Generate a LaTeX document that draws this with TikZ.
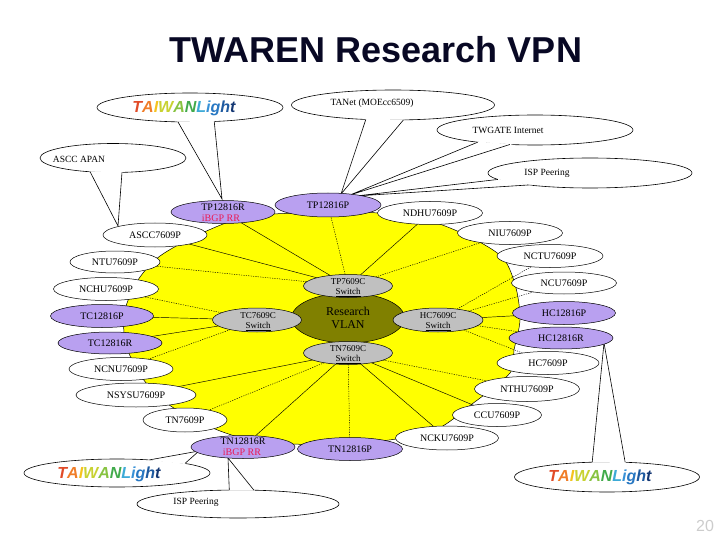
\documentclass[tikz,border=0pt]{standalone}
\usepackage{fontspec}
\setmainfont{Liberation Serif}
\newfontfamily\arialf{Liberation Sans}
\usetikzlibrary{shapes.geometric}
\pgfdeclarelayer{bg}
\pgfsetlayers{bg,main}
\definecolor{purp}{RGB}{185,160,240}
\definecolor{swgray}{RGB}{192,192,192}
\definecolor{olive}{RGB}{128,128,0}
\definecolor{blobyel}{RGB}{255,255,0}
\definecolor{ibgp}{RGB}{235,25,85}
\definecolor{titlecol}{RGB}{8,8,36}
\definecolor{twA}{RGB}{225,75,40}
\definecolor{twB}{RGB}{240,125,40}
\definecolor{twC}{RGB}{245,195,30}
\definecolor{twD}{RGB}{200,210,50}
\definecolor{twE}{RGB}{135,195,65}
\definecolor{twF}{RGB}{65,170,75}
\definecolor{twG}{RGB}{60,170,215}
\definecolor{twH}{RGB}{55,145,215}
\definecolor{twI}{RGB}{40,120,195}
\definecolor{twJ}{RGB}{30,90,160}
\definecolor{twK}{RGB}{20,55,115}
\newcommand{\twlight}{{\arialf\bfseries\itshape\textcolor{twA}{T}\textcolor{twB}{A}\textcolor{twC}{I}\textcolor{twD}{W}\textcolor{twE}{A}\textcolor{twF}{N}\textcolor{twG}{L}\textcolor{twH}{i}\textcolor{twI}{g}\textcolor{twJ}{h}\textcolor{twK}{t}}}
\tikzset{
  ell/.style={ellipse, draw=black, line width=0.5pt, inner sep=0pt, outer sep=0pt, font=\fontsize{10}{12}\selectfont},
  wnode/.style={ell, fill=white},
  pnode/.style={ell, fill=purp},
  snode/.style={ell, fill=swgray},
  cnode/.style={ellipse, draw=black, line width=0.6pt, fill=white, inner sep=0pt, outer sep=0pt},
  ctxt/.style={inner sep=0pt, font=\fontsize{9.5}{11}\selectfont},
  stxt/.style={inner sep=0pt, align=center, font=\fontsize{9}{10}\selectfont},
  ntxt/.style={inner sep=0pt, font=\fontsize{10}{12}\selectfont},
  itxt/.style={inner sep=0pt, text=ibgp, font=\fontsize{10}{12}\selectfont},
  tw/.style={inner sep=0pt, font=\fontsize{16}{18}\selectfont},
  ptrfill/.style={fill=white, draw=white, line width=1pt},
  ptr/.style={draw=black, line width=0.6pt},
  sol/.style={draw=black, line width=0.45pt},
  dot/.style={draw=black, line width=0.45pt, dash pattern=on 1.2pt off 1.2pt},
  blob/.style={fill=blobyel, draw=black, line width=0.5pt}
}
\begin{document}
\begin{tikzpicture}[x=1pt,y=-1pt]
\useasboundingbox (0,0) rectangle (720,540);

% title
\node[font=\arialf\bfseries\fontsize{36}{40}\selectfont, text=titlecol, anchor=base, inner sep=0pt] (title) at (376,63) {TWAREN Research VPN};

% callouts
\node[cnode, minimum width=186pt, minimum height=29pt] (tlt) at (190,107.5) {};
\coordinate (tlt-tip) at (222,199);
\path[ptrfill] (tlt.230) -- (tlt-tip) -- (tlt.330) -- cycle;
\draw[ptr] (tlt.230) -- (tlt-tip) -- (tlt.330);
\node[tw] (tlt-t) at (184,108) {\twlight};

\node[cnode, minimum width=203pt, minimum height=30pt] (tanet) at (393,105) {};
\coordinate (tanet-tip) at (341,194);
\path[ptrfill] (tanet.208) -- (tanet-tip) -- (tanet.305) -- cycle;
\draw[ptr] (tanet.208) -- (tanet-tip) -- (tanet.305);
\node[ctxt] (tanet-t) at (372,103) {TANet (MOEcc6509)};

\node[cnode, minimum width=196pt, minimum height=30pt] (twgate) at (535,130) {};
\coordinate (twgate-tip) at (350,195);
\path[ptrfill] (twgate.192) -- (twgate-tip) -- (twgate.210) -- cycle;
\draw[ptr] (twgate.192) -- (twgate-tip) -- (twgate.210);
\node[ctxt] (twgate-t) at (508,130) {TWGATE Internet};

\node[cnode, minimum width=204pt, minimum height=30pt] (ispt) at (590,173) {};
\coordinate (ispt-tip) at (356,196);
\path[ptrfill] (ispt.184) -- (ispt-tip) -- (ispt.191) -- cycle;
\draw[ptr] (ispt.184) -- (ispt-tip) -- (ispt.191);
\node[ctxt] (ispt-t) at (547,173) {ISP Peering};

\node[cnode, minimum width=146pt, minimum height=29pt] (apan) at (113,158) {};
\coordinate (apan-tip) at (118,226);
\path[ptrfill] (apan.211) -- (apan-tip) -- (apan.302) -- cycle;
\draw[ptr] (apan.211) -- (apan-tip) -- (apan.302);
\node[ctxt] (apan-t) at (79,159) {ASCC APAN};

\node[cnode, minimum width=186pt, minimum height=28pt] (tlbl) at (117,473) {};
\coordinate (tlbl-tip) at (199,451);
\path[ptrfill] (tlbl.22) -- (tlbl-tip) -- (tlbl.8.5) -- cycle;
\draw[ptr] (tlbl.22) -- (tlbl-tip) -- (tlbl.8.5);
\node[tw] (tlbl-t) at (109,474) {\twlight};

\node[cnode, minimum width=202pt, minimum height=28pt] (ispb) at (238,504) {};
\coordinate (ispb-tip) at (228,458);
\path[ptrfill] (ispb.122) -- (ispb-tip) -- (ispb.41) -- cycle;
\draw[ptr] (ispb.122) -- (ispb-tip) -- (ispb.41);
\node[ctxt] (ispb-t) at (196,502) {ISP Peering};

\node[cnode, minimum width=185pt, minimum height=30pt] (tlbr) at (607,477) {};
\coordinate (tlbr-tip) at (604,343);
\path[ptrfill] (tlbr.135) -- (tlbr-tip) -- (tlbr.39) -- cycle;
\draw[ptr] (tlbr.135) -- (tlbr-tip) -- (tlbr.39);
\node[tw] (tlbr-t) at (600,477) {\twlight};

% white nodes
\node[wnode, minimum width=104pt, minimum height=24pt] (ascc) at (155,235) {ASCC7609P};
\node[wnode, minimum width=90pt, minimum height=22pt] (ntu) at (115,262) {NTU7609P};
\node[wnode, minimum width=105pt, minimum height=23pt] (nchu) at (106,289) {NCHU7609P};
\node[wnode, minimum width=104pt, minimum height=23pt] (ncnu) at (121,369) {NCNU7609P};
\node[wnode, minimum width=120pt, minimum height=24pt] (nsysu) at (136,395) {NSYSU7609P};
\node[wnode, minimum width=84pt, minimum height=24pt] (tn7609p) at (185,420) {TN7609P};
\node[wnode, minimum width=103pt, minimum height=24pt] (ncku) at (447,438) {NCKU7609P};
\node[wnode, minimum width=89pt, minimum height=23pt] (ccu) at (497,415) {CCU7609P};
\node[wnode, minimum width=105pt, minimum height=25pt] (nthu) at (527,389) {NTHU7609P};
\node[wnode, minimum width=102pt, minimum height=23pt] (hc7609p) at (548,363) {HC7609P};
\node[wnode, minimum width=105pt, minimum height=22pt] (ncu) at (564,283) {NCU7609P};
\node[wnode, minimum width=106pt, minimum height=23pt] (nctu) at (550,256) {NCTU7609P};
\node[wnode, minimum width=105pt, minimum height=23pt] (niu) at (510,233) {NIU7609P};
\node[wnode, minimum width=105pt, minimum height=23pt] (ndhu) at (430,213) {NDHU7609P};

% purple nodes
\node[pnode, minimum width=104pt, minimum height=23pt] (tp12816r) at (223,212) {};
\node[ntxt] (tp12816r-t) at (223,207.5) {TP12816R};
\node[itxt] (tp12816r-b) at (221,218.5) {iBGP RR};
\node[pnode, minimum width=106pt, minimum height=24pt] (tp12816p) at (328,205) {TP12816P};
\node[pnode, minimum width=103pt, minimum height=23pt] (tc12816p) at (102,316) {TC12816P};
\node[pnode, minimum width=104pt, minimum height=22pt] (tc12816r) at (110,343) {TC12816R};
\node[pnode, minimum width=103pt, minimum height=23pt] (hc12816p) at (564,313) {HC12816P};
\node[pnode, minimum width=104pt, minimum height=22pt] (hc12816r) at (561,338) {HC12816R};
\node[pnode, minimum width=104pt, minimum height=23pt] (tn12816r) at (243,447) {};
\node[ntxt] (tn12816r-t) at (243,441.5) {TN12816R};
\node[itxt] (tn12816r-b) at (242,452.5) {iBGP RR};
\node[pnode, minimum width=105pt, minimum height=23pt] (tn12816p) at (350,449) {TN12816P};

% centre
\node[ell, fill=olive, minimum width=113pt, minimum height=50pt, align=center, font=\fontsize{12}{13.5}\selectfont] (vlan) at (348,318) {Research\\VLAN};
\node[snode, minimum width=89pt, minimum height=23pt] (tp7609c) at (348,286) {};
\node[stxt] (tp7609c-t) at (348,288) {TP7609C\\\underline{Switch}};
\node[snode, minimum width=89pt, minimum height=24pt] (tc7609c) at (257,320) {};
\node[stxt] (tc7609c-t) at (258,322) {TC7609C\\\underline{Switch}};
\node[snode, minimum width=90pt, minimum height=24pt] (hc7609c) at (438,320) {};
\node[stxt] (hc7609c-t) at (438,322) {HC7609C\\\underline{Switch}};
\node[snode, minimum width=89pt, minimum height=23pt] (tn7609c) at (348,353) {};
\node[stxt] (tn7609c-t) at (348,355) {TN7609C\\\underline{Switch}};

% page number
\node[font=\arialf\fontsize{16}{18}\selectfont, text=gray!40, anchor=base, inner sep=0pt] (pg) at (705,531) {20};

\begin{pgfonlayer}{bg}
\draw[blob] plot[smooth cycle] coordinates {(300,213) (380,213) (430,221) (470,237) (503,258) (516,288) (520,320) (514,350) (510,373) (472,404) (430,432) (350,444) (262,442) (210,427) (165,402) (138,372) (125,340) (125,310) (138,280) (160,256) (200,234) (245,217)};
\draw[sol] (tp7609c) -- (tp12816r);
\draw[dot] (tp7609c) -- (tp12816p);
\draw[sol] (tp7609c) -- (ndhu);
\draw[dot] (tp7609c) -- (niu);
\draw[sol] (tp7609c) -- (ascc);
\draw[dot] (tp7609c) -- (ntu);
\draw[dot] (tc7609c) -- (nchu);
\draw[sol] (tc7609c) -- (tc12816p);
\draw[sol] (tc7609c) -- (tc12816r);
\draw[dot] (tc7609c) -- (ncnu);
\draw[dot] (hc7609c) -- (nctu);
\draw[dot] (hc7609c) -- (ncu);
\draw[sol] (hc7609c) -- (hc12816p);
\draw[dot] (hc7609c) -- (hc12816r);
\draw[dot] (hc7609c) -- (hc7609p);
\draw[sol] (tn7609c) -- (nsysu);
\draw[dot] (tn7609c) -- (tn7609p);
\draw[sol] (tn7609c) -- (tn12816r);
\draw[dot] (tn7609c) -- (tn12816p);
\draw[sol] (tn7609c) -- (ncku);
\draw[sol] (tn7609c) -- (ccu);
\draw[dot] (tn7609c) -- (nthu);
\end{pgfonlayer}
\end{tikzpicture}
\end{document}
